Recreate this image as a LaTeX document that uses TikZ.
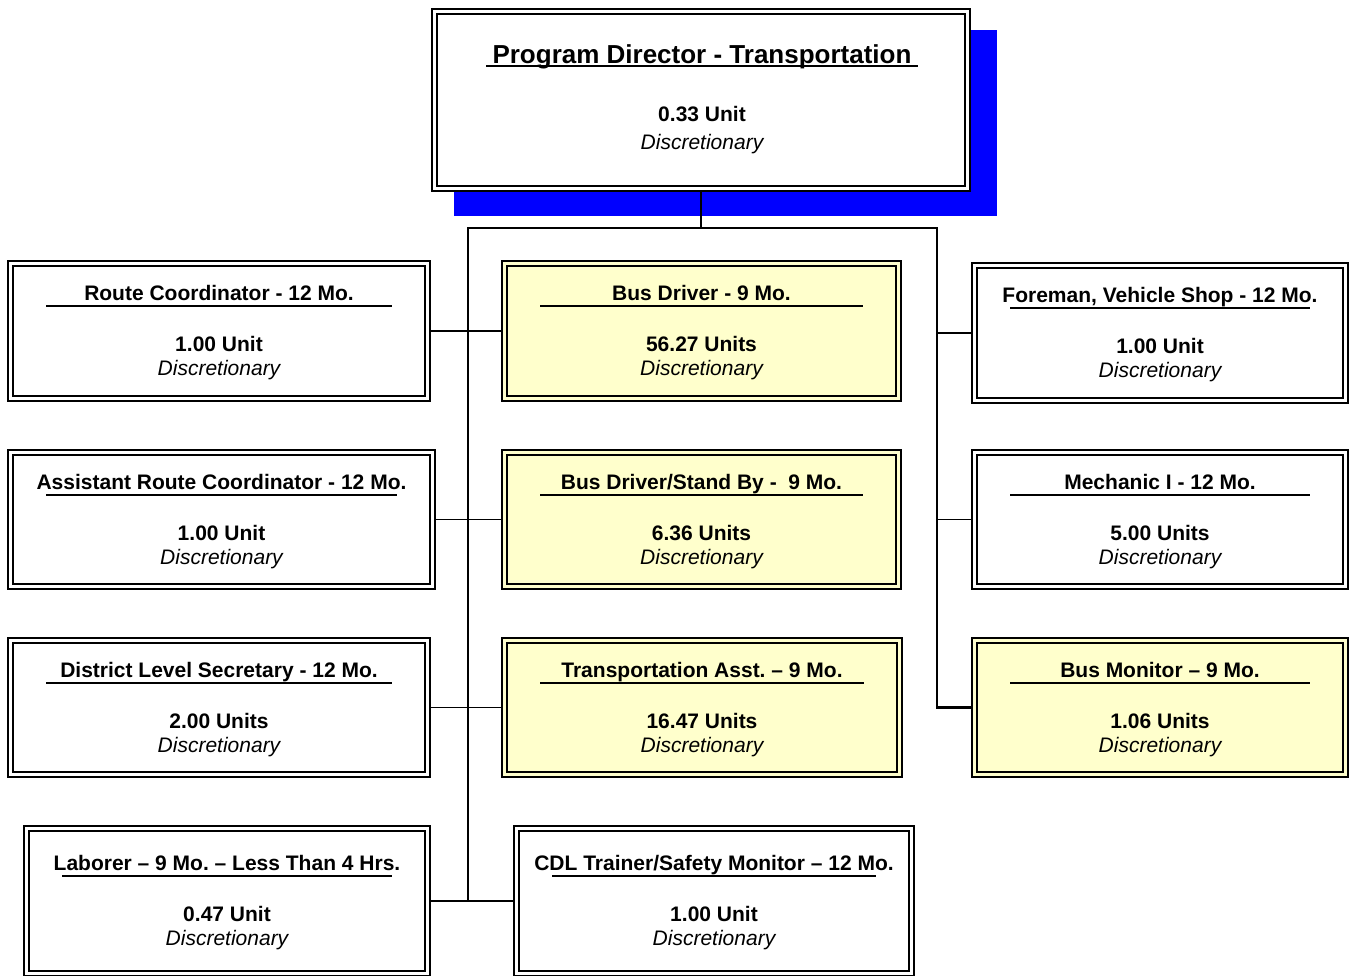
\documentclass[tikz,border=0pt]{standalone}
\usepackage{fontspec}
\setmainfont{Liberation Sans}
\frenchspacing
\definecolor{paleyellow}{RGB}{255,255,204}
\definecolor{shadowblue}{RGB}{0,0,255}
\tikzset{
  boxouter/.style={draw=black, line width=2pt, inner sep=0pt, outer sep=0pt, rectangle},
  boxinner/.style={draw=black, line width=1.1pt},
  titletext/.style={anchor=base, inner sep=0pt, font=\fontsize{21}{25}\selectfont\bfseries},
  bigtitle/.style={anchor=base, inner sep=0pt, font=\fontsize{26}{30}\selectfont\bfseries},
  unittext/.style={anchor=base, inner sep=0pt, font=\fontsize{21}{25}\selectfont\bfseries},
  disctext/.style={anchor=base, inner sep=0pt, font=\fontsize{21}{25}\selectfont\itshape},
  uline/.style={draw=black, line width=1.3pt},
  trunk/.style={draw=black, line width=2.5pt},
  branch/.style={draw=black, line width=1.5pt}
}
\newcommand{\orgbox}[9]{%
  \node[boxouter, fill=#6, minimum width={#4-#2-2}, minimum height={#5-#3-2}] (#1) at ({(#2+#4)/2},{(#3+#5)/2}) {};
  \draw[boxinner] ([shift={(5,5)}]#1.north west) rectangle ([shift={(-5,-5)}]#1.south east);
  \node[titletext] (#1-t) at ({(#2+#4)/2},{#3+40+#9}) {#7};
  \draw[uline] ({#2+39},{#3+46+#9}) -- ({#4-39},{#3+46+#9});
  \node[unittext] (#1-u) at ({(#2+#4)/2},{#3+91+#9}) {#8};
  \node[disctext] (#1-d) at ({(#2+#4)/2},{#3+115+#9}) {Discretionary};
}
\begin{document}
\begin{tikzpicture}[x=1pt, y=-1pt]
\useasboundingbox (0,0) rectangle (1354,976);
% shadow and top box
\fill[shadowblue] (454,30) rectangle (997,216);
\node[boxouter, fill=white, minimum width=538, minimum height=182] (top) at (701,100) {};
\draw[boxinner] ([shift={(5,5)}]top.north west) rectangle ([shift={(-5,-5)}]top.south east);
\node[bigtitle] (top-t) at (702,64) {Program Director - Transportation};
\draw[uline] (486,66) -- (918,66);
\node[unittext] (top-u) at (702,122) {0.33 Unit};
\node[disctext] (top-d) at (702,150) {Discretionary};
% boxes
\orgbox{A1}{7}{260}{431}{402}{white}{Route Coordinator - 12 Mo.}{1.00 Unit}{0}
\orgbox{B1}{501}{260}{902}{402}{paleyellow}{Bus Driver - 9 Mo.}{56.27 Units}{0}
\orgbox{C1}{971}{262}{1349}{404}{white}{Foreman, Vehicle Shop - 12 Mo.}{1.00 Unit}{0}
\orgbox{A2}{7}{449}{436}{590}{white}{Assistant Route Coordinator - 12 Mo.}{1.00 Unit}{0}
\orgbox{B2}{501}{449}{902}{590}{paleyellow}{Bus Driver/Stand By -~\ 9 Mo.}{6.36 Units}{0}
\orgbox{C2}{971}{449}{1349}{590}{white}{Mechanic I - 12 Mo.}{5.00 Units}{0}
\orgbox{A3}{7}{637}{431}{778}{white}{District Level Secretary - 12 Mo.}{2.00 Units}{0}
\orgbox{B3}{501}{637}{903}{778}{paleyellow}{Transportation Asst. – 9 Mo.}{16.47 Units}{0}
\orgbox{C3}{971}{637}{1349}{778}{paleyellow}{Bus Monitor – 9 Mo.}{1.06 Units}{0}
\orgbox{A4}{23}{825}{431}{977}{white}{Laborer – 9 Mo. – Less Than 4 Hrs.}{0.47 Unit}{5}
\orgbox{B4}{513}{825}{915}{977}{white}{CDL Trainer/Safety Monitor – 12 Mo.}{1.00 Unit}{5}
% connectors
\coordinate (lt) at (468,228);
\coordinate (rt) at (937,228);
\draw[trunk] (top.south) -- (top.south |- lt);
\draw[trunk, line join=miter] (C3.west) -| (rt) -- (lt) -- (lt |- A4.east);
\draw[branch] (A1.east) -- (B1.west);
\draw[branch] (A2.east) -- (B2.west);
\draw[branch] (A3.east) -- (B3.west);
\draw[branch] (A4.east) -- (B4.west);
\draw[branch] (C1.west) -- (C1.west -| rt);
\draw[branch] (C2.west) -- (C2.west -| rt);
\end{tikzpicture}
\end{document}
